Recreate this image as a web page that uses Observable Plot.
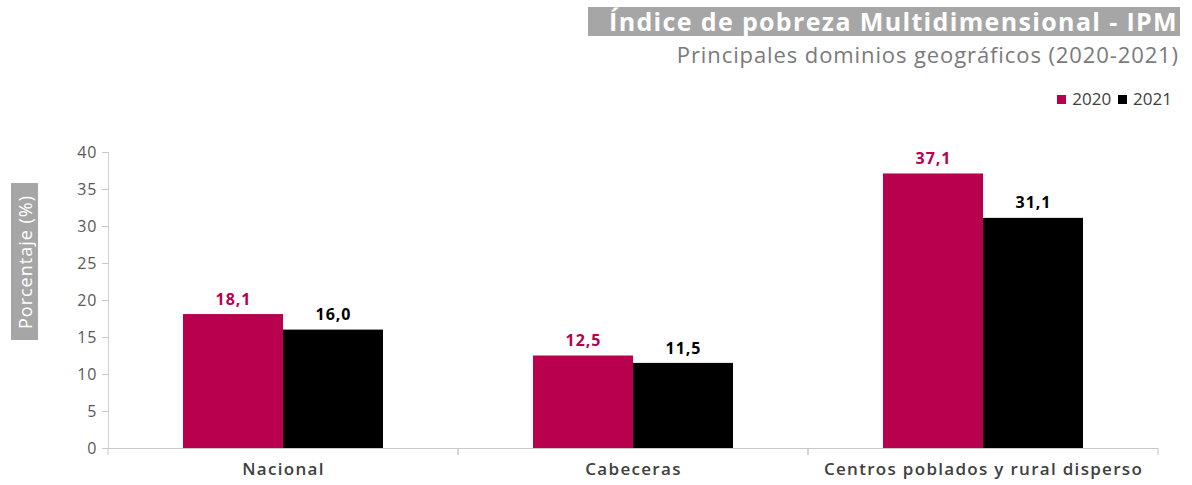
<!DOCTYPE html>
<html>
<head>
<meta charset="utf-8">
<script src="https://cdn.jsdelivr.net/npm/d3@7"></script>
<script src="https://cdn.jsdelivr.net/npm/@observablehq/plot@0.6"></script>
<style>
  html, body { margin: 0; padding: 0; background: #fff; }
  body { width: 1192px; height: 485px; position: relative; overflow: hidden; font-family: "Open Sans", sans-serif; }
  #header { position: relative; height: 110px; }
  #title { position: absolute; left: 588px; top: 7px; width: 592px; height: 29px; background: #a6a6a6; color: #fff;
           font-weight: bold; font-size: 25px; line-height: 29px; box-sizing: border-box; white-space: nowrap; }
  #title span { position: absolute; right: 2px; top: 0; letter-spacing: 1.35px; }
  #subtitle { position: absolute; right: 13px; top: 40px; color: #7a7a7a; font-size: 22px; line-height: 28px; white-space: nowrap; letter-spacing: 0.9px; }
  #legend { position: absolute; right: 20px; top: 88px; font-size: 17px; color: #404040; line-height: 22px; white-space: nowrap; display: flex; align-items: center; }
  #legend .sw { display: inline-block; width: 9px; height: 9px; margin-right: 6px; }
  #legend .item { display: flex; align-items: center; margin-left: 7px; }
  #ylabel { position: absolute; left: 11px; top: 183px; width: 27px; height: 157px; background: #a6a6a6; }
  #ylabel span { position: absolute; left: 50%; top: 50%; transform: translate(-50%, -50%) rotate(-90deg); color: #fff; font-size: 18px; white-space: nowrap; letter-spacing: 1px; }
  #chart svg { display: block; }
  #chart svg text { letter-spacing: 1px; }
  #chart svg g[aria-label="fx-axis tick label"] text { letter-spacing: 1.3px; }
</style>
</head>
<body>
<div id="header">
  <div id="title"><span></span></div>
  <div id="subtitle"></div>
  <div id="legend"></div>
</div>
<div id="chart"></div>
<div id="ylabel"><span></span></div>
<script>
const titleText = "Índice de pobreza Multidimensional - IPM";
const subtitleText = "Principales dominios geográficos (2020-2021)";
const yLabelText = "Porcentaje (%)";
const categories = ["Nacional", "Cabeceras", "Centros poblados y rural disperso"];
const years = ["2020", "2021"];
const values2020 = [18.1, 12.5, 37.1];
const values2021 = [16.0, 11.5, 31.1];
const yTicks = [0, 5, 10, 15, 20, 25, 30, 35, 40];
const colors = ["#b8004f", "#000000"];

document.querySelector("#title span").textContent = titleText;
document.getElementById("subtitle").textContent = subtitleText;
document.querySelector("#ylabel span").textContent = yLabelText;
const legend = document.getElementById("legend");
years.forEach((yr, i) => {
  const it = document.createElement("div");
  it.className = "item";
  const sw = document.createElement("span");
  sw.className = "sw";
  sw.style.background = colors[i];
  it.appendChild(sw);
  it.appendChild(document.createTextNode(yr));
  legend.appendChild(it);
});

const data = [];
categories.forEach((c, i) => {
  data.push({cat: c, year: years[0], value: values2020[i]});
  data.push({cat: c, year: years[1], value: values2021[i]});
});
const fmt = v => v.toFixed(1).replace(".", ",");

function boundaryTicks(index, scales, values, dims) {
  const g = d3.create("svg:g").attr("stroke", "#c8c8c8");
  const y0 = dims.height - dims.marginBottom;
  [dims.marginLeft, dims.width - dims.marginRight].forEach(x => {
    g.append("line").attr("x1", x).attr("x2", x).attr("y1", y0).attr("y2", y0 + 7);
  });
  return g.node();
}

const plot = Plot.plot({
  width: 1192,
  height: 375,
  marginTop: 42,
  marginBottom: 37,
  marginLeft: 107,
  marginRight: 34,
  style: {fontFamily: "'Open Sans', sans-serif", background: "transparent"},
  fx: {domain: categories, padding: 0, label: null},
  x: {domain: years, paddingInner: 0, paddingOuter: 0.75, axis: null},
  y: {domain: [0, 40], label: null},
  color: {domain: years, range: colors},
  marks: [
    Plot.axisFx({anchor: "bottom", tickSize: 0, tickPadding: 14, fontSize: 17, fontWeight: 600, fill: "#404040", label: null}),
    Plot.axisY({ticks: yTicks, tickSize: 6, tickPadding: 5, fontSize: 16, fill: "#595959", stroke: "#c8c8c8", label: null}),
    Plot.frame({anchor: "left", stroke: "#d0d0d0", facetAnchor: "left"}),
    Plot.barY(data, {fx: "cat", x: "year", y: "value", fill: "year"}),
    Plot.ruleY([0], {stroke: "#c8c8c8"}),
    boundaryTicks,
    Plot.text(data, {fx: "cat", x: "year", y: "value", text: d => fmt(d.value), fill: "year", dy: -15, fontSize: 16, fontWeight: "bold"})
  ]
});
document.getElementById("chart").appendChild(plot);
</script>
</body>
</html>
